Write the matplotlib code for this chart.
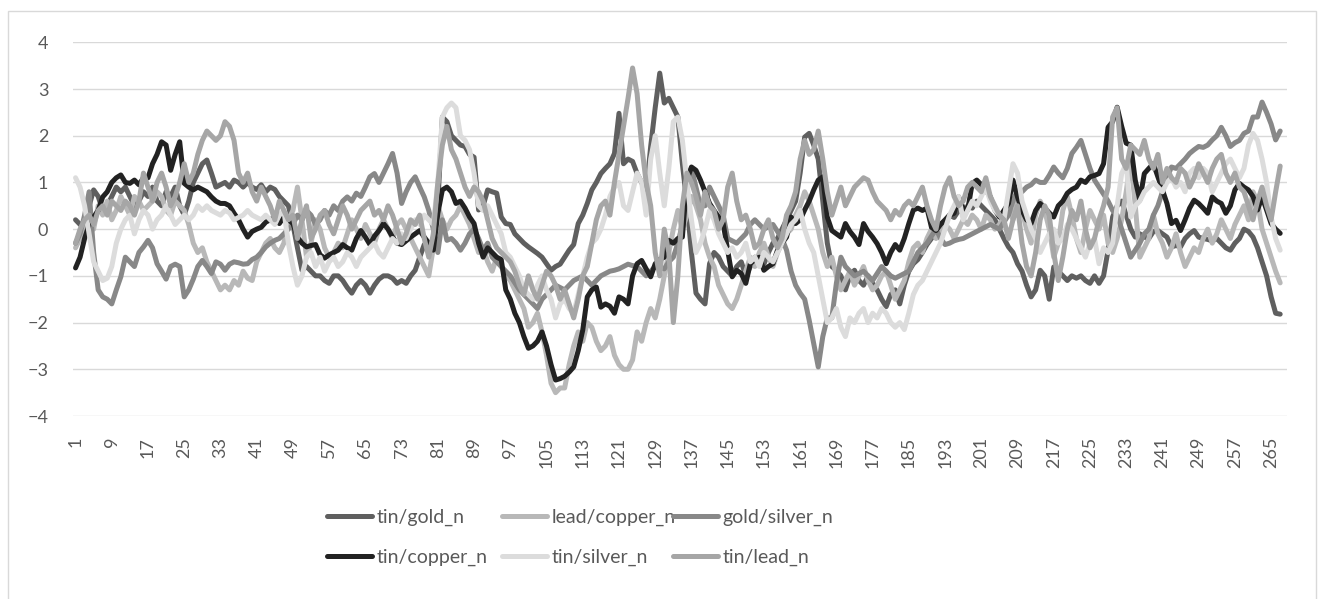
import matplotlib
matplotlib.use('Agg')
import matplotlib.pyplot as plt
from matplotlib.patches import Rectangle

plt.rcParams['font.family'] = ['Lato', 'DejaVu Sans']

series_names = ['tin/gold_n', 'lead/copper_n', 'gold/silver_n',
                'tin/copper_n', 'tin/silver_n', 'tin/lead_n']
colors = ['#5f5f5f', '#b8b8b8', '#888888', '#222222', '#dcdcdc', '#a6a6a6']

tin_gold = [
    0.2, 0.1, 0.0, 0.5, 0.84, 0.7, 0.4, 0.5, 0.7, 0.9,
    0.8, 0.9, 0.7, 0.5, 0.6, 0.8, 0.7, 0.9, 0.6, 0.5,
    0.8, 0.7, 0.9, 0.5, 0.3, 0.6, 1.0, 1.2, 1.4, 1.48,
    1.2, 0.9, 0.95, 1.0, 0.9, 1.05, 1.0, 0.9, 1.0, 0.9,
    0.85, 0.95, 0.8, 0.9, 0.85, 0.7, 0.6, 0.5, 0.1, -0.4,
    -0.88, -0.8, -0.9, -1.0, -1.0, -1.1, -1.16, -1.0, -1.0, -1.1,
    -1.25, -1.37, -1.2, -1.1, -1.2, -1.37, -1.2, -1.07, -1.0, -1.0,
    -1.05, -1.16, -1.1, -1.16, -1.0, -0.88, -0.6, -0.33, -0.4, -0.2,
    0.55, 2.4, 2.3, 2.0, 1.9, 1.8, 1.77, 1.6, 1.54, 0.41,
    0.5, 0.84, 0.8, 0.77, 0.26, 0.12, 0.1, -0.1, -0.2, -0.3,
    -0.38, -0.45, -0.52, -0.6, -0.74, -0.88, -0.8, -0.75, -0.6, -0.45,
    -0.33, 0.12, 0.3, 0.55, 0.84, 1.0, 1.19, 1.3, 1.4, 1.62,
    2.48, 1.4, 1.5, 1.45, 1.19, 1.0, 0.77, 1.77, 2.6, 3.34,
    2.7, 2.8, 2.6, 2.4, 1.4, 0.55, -0.5, -1.37, -1.5, -1.6,
    -0.74, -0.5, -0.6, -0.8, -0.9, -1.0, -0.8, -0.7, -1.0, -0.8,
    -0.6, -0.7, -0.75, -0.5, -0.3, -0.2, 0.0, 0.2, 0.4, 0.6,
    1.2, 1.97, 2.05, 1.8, 1.5, 0.6, -0.3, -0.8, -0.88, -1.0,
    -1.3, -1.0, -0.88, -1.1, -1.2, -1.0, -1.16, -1.3, -1.5, -1.66,
    -1.4, -1.3, -1.6, -1.2, -0.9, -0.74, -0.65, -0.5, -0.33, -0.2,
    -0.03, 0.1, 0.2, 0.3, 0.25, 0.4, 0.35, 0.5, 0.45, 0.6,
    0.5, 0.4, 0.3, 0.2, 0.0, -0.2, -0.38, -0.5, -0.74, -0.9,
    -1.2, -1.45, -1.3, -0.88, -1.0, -1.5, -0.81, -0.9, -1.0, -1.1,
    -1.0, -1.05, -1.0, -1.1, -1.16, -1.0, -1.16, -1.0, -0.45, 0.26,
    0.5, 0.6, 0.3, 0.0, -0.17, -0.1, -0.17, -0.2, -0.05, -0.03,
    -0.1, -0.17, -0.38, -0.35, -0.38, -0.2, -0.1, -0.03, -0.17, -0.2,
    -0.22, -0.25, -0.2, -0.3, -0.4, -0.45, -0.3, -0.2, 0.0, -0.05,
    -0.17, -0.4, -0.7, -1.0, -1.45, -1.8, -1.82,
]

lead_copper = [
    -0.4, -0.2, 0.1, 0.3, 0.0, 0.5, 0.3, 0.6, 0.2, 0.4,
    0.7, 0.5, 0.3, 0.7, 0.6, 0.4, 0.5, 0.6, 0.8, 0.7,
    0.4, 0.3, 0.6, 0.5, 0.4, 0.1, -0.3, -0.5, -0.4, -0.7,
    -0.9, -1.1, -1.3, -1.2, -1.3, -1.1, -1.2, -0.9, -1.05, -1.1,
    -0.7, -0.5, -0.3, -0.2, -0.4, -0.5, -0.3, 0.2, 0.4, 0.9,
    0.2, -0.6, -0.3, 0.2, 0.0, -0.4, -0.6, -0.5, -0.3, -0.4,
    -0.1, 0.2, 0.0, -0.2, 0.1, -0.1, -0.3, 0.0, 0.2, 0.0,
    -0.2, 0.1, 0.2, 0.0, -0.2, -0.4, -0.6, -0.8, -1.0, -0.4,
    0.5, 0.2, 0.0, 0.2, 0.3, 0.5, 0.3, 0.1, -0.2, -0.5,
    -0.4, -0.7, -0.9, -0.6, -0.8, -1.0, -1.1, -1.3, -1.5, -1.7,
    -2.1, -2.0, -1.8, -2.2, -2.7, -3.3, -3.5, -3.4, -3.4, -2.9,
    -2.5, -2.2, -2.4, -2.0, -2.1, -2.4, -2.6, -2.5, -2.3, -2.7,
    -2.9, -3.0, -3.0, -2.8, -2.2, -2.4, -2.0, -1.7, -1.9, -1.5,
    -1.0, -0.5, 0.0, 0.4, 0.0, 0.3, 0.7, 0.5, 0.2, -0.3,
    -0.6, -0.8, -1.2, -1.4, -1.6, -1.7, -1.5, -1.2, -0.9, -0.6,
    -0.8, -0.5, -0.3, -0.6, -0.8, -0.5, -0.3, -0.1, 0.0, 0.3,
    0.5, 0.8, 0.6, 0.3, 0.0, -0.5, -0.8, -0.6, -1.0, -1.3,
    -1.1, -0.9, -1.2, -1.0, -0.8, -1.1, -1.3, -1.2, -1.0, -0.9,
    -1.2, -1.5, -1.3, -1.1, -0.7, -0.4, -0.3, -0.5, -0.2, 0.0,
    -0.2, -0.1, 0.1, 0.0, -0.2, 0.0, 0.2, 0.1, 0.3, 0.2,
    0.0, 0.3, 0.2, 0.0, 0.1, 0.3, 0.5, 0.2, 0.6, 0.4,
    0.0, -0.3, 0.3, 0.6, 0.4, 0.0, -0.6, -0.3, 0.4, 0.7,
    0.3, -0.2, -0.5, 0.0, 0.4, 0.2, 0.0, 0.3, -0.3, -0.5,
    -0.2, 0.2, 0.8, 1.5, 0.5, -0.6, -0.4, -0.2, 0.3, -0.1,
    -0.3, -0.6, -0.4, -0.1, -0.5, -0.8, -0.6, -0.4, -0.5, -0.2,
    0.0, -0.3, -0.1, 0.2, 0.0, -0.2, 0.1, 0.3, 0.5, 0.2,
    0.8, 0.6, 0.0, -0.3, -0.6, -0.9, -1.15,
]

gold_silver = [
    -0.3, -0.1, 0.3, 0.8, -0.5, -1.3, -1.45, -1.5, -1.6, -1.3,
    -1.02, -0.6, -0.7, -0.8, -0.5, -0.38, -0.24, -0.4, -0.74, -0.9,
    -1.07, -0.8, -0.75, -0.8, -1.45, -1.3, -1.07, -0.8, -0.67, -0.8,
    -0.95, -0.7, -0.75, -0.88, -0.75, -0.7, -0.72, -0.75, -0.74, -0.65,
    -0.6, -0.5, -0.38, -0.3, -0.24, -0.2, -0.1, 0.0, 0.1, 0.3,
    0.2, 0.4, 0.3, 0.1, 0.2, 0.4, 0.3, 0.5, 0.4, 0.6,
    0.69, 0.6, 0.77, 0.7, 0.9, 1.12, 1.19, 1.0, 1.2, 1.4,
    1.62, 1.2, 0.55, 0.8, 1.0, 1.12, 0.9, 0.69, 0.4, 0.0,
    -0.5, 0.2, -0.24, -0.2, -0.3, -0.45, -0.3, -0.1, 0.0, -0.2,
    -0.45, -0.3, -0.6, -0.7, -0.8, -0.9, -1.0, -1.15, -1.3, -1.4,
    -1.5, -1.6, -1.7, -1.5, -1.4, -1.3, -1.2, -1.25, -1.3, -1.2,
    -1.1, -1.05, -1.0, -1.1, -1.2, -1.1, -1.0, -0.95, -0.9, -0.88,
    -0.85, -0.8, -0.75, -0.78, -0.8, -0.9, -1.0, -0.9, -0.8, -0.82,
    -0.85, -0.7, -0.6, -0.3, 0.1, 1.1, 1.3, 0.9, 0.5, 0.5,
    0.9, 0.7, 0.5, 0.3, -0.2, -0.25, -0.3, -0.2, -0.1, 0.1,
    0.2, 0.1, 0.0, 0.05, 0.1, -0.05, -0.2, -0.45, -0.9, -1.2,
    -1.37, -1.5, -1.95, -2.45, -2.95, -2.3, -1.9, -1.9, -1.16, -0.6,
    -0.8, -0.9, -1.0, -0.95, -0.9, -1.0, -1.1, -0.95, -0.8, -0.9,
    -1.0, -1.05, -1.0, -0.95, -0.9, -0.7, -0.5, -0.4, -0.3, -0.15,
    0.0, -0.2, -0.33, -0.3, -0.25, -0.22, -0.2, -0.15, -0.1, -0.05,
    0.0, 0.05, 0.1, 0.05, 0.0, 0.15, 0.3, 0.6, 0.84, 0.8,
    0.9, 0.95, 1.05, 1.0, 1.0, 1.15, 1.33, 1.2, 1.1, 1.3,
    1.62, 1.75, 1.9, 1.6, 1.3, 1.05, 0.9, 0.75, 0.6, 0.4,
    0.3, 0.0, -0.3, -0.6, -0.45, -0.3, -0.1, 0.0, 0.3, 0.5,
    0.8, 1.1, 1.33, 1.3, 1.4, 1.5, 1.62, 1.7, 1.77, 1.75,
    1.8, 1.91, 2.0, 2.18, 2.0, 1.77, 1.85, 1.9, 2.05, 2.1,
    2.4, 2.4, 2.72, 2.5, 2.25, 1.91, 2.1,
]

tin_copper = [
    -0.83, -0.6, -0.2, 0.1, 0.26, 0.4, 0.69, 0.8, 1.0, 1.1,
    1.16, 1.0, 0.98, 1.05, 0.95, 1.1, 1.1, 1.4, 1.6, 1.87,
    1.8, 1.26, 1.6, 1.87, 0.98, 0.9, 0.84, 0.9, 0.85, 0.8,
    0.69, 0.6, 0.55, 0.55, 0.5, 0.34, 0.2, 0.0, -0.17, -0.05,
    0.0, 0.04, 0.15, 0.2, 0.26, 0.12, 0.26, 0.2, 0.12, -0.17,
    -0.3, -0.38, -0.35, -0.33, -0.55, -0.62, -0.55, -0.5, -0.45, -0.33,
    -0.4, -0.45, -0.2, -0.03, -0.17, -0.33, -0.15, -0.03, 0.12, 0.0,
    -0.17, -0.3, -0.33, -0.25, -0.17, -0.1, -0.03, -0.17, -0.3, -0.45,
    0.34, 0.84, 0.9, 0.8, 0.55, 0.6, 0.45, 0.26, 0.12, -0.3,
    -0.6, -0.4, -0.5, -0.6, -0.65, -1.3, -1.5, -1.8, -2.0, -2.3,
    -2.55, -2.5, -2.4, -2.2, -2.5, -2.9, -3.23, -3.2, -3.15, -3.06,
    -2.95, -2.6, -2.16, -1.45, -1.3, -1.24, -1.67, -1.6, -1.65, -1.8,
    -1.45, -1.5, -1.6, -1.0, -0.74, -0.67, -0.85, -1.02, -0.74, -0.65,
    -0.6, -0.24, -0.3, -0.2, -0.17, 1.05, 1.33, 1.26, 1.05, 0.8,
    0.55, 0.4, 0.26, 0.12, -0.45, -1.02, -0.88, -0.95, -1.16, -0.74,
    -0.65, -0.6, -0.88, -0.8, -0.74, -0.45, -0.3, -0.17, 0.26, 0.12,
    0.2, 0.41, 0.6, 0.84, 1.05, 1.12, 0.26, -0.03, -0.1, -0.17,
    0.12, -0.05, -0.17, -0.33, 0.12, -0.05, -0.17, -0.31, -0.5, -0.74,
    -0.5, -0.33, -0.45, -0.2, 0.12, 0.41, 0.45, 0.4, 0.45, 0.04,
    -0.03, 0.1, 0.19, 0.3, 0.34, 0.69, 0.45, 0.41, 0.98, 1.05,
    0.95, 0.84, 0.69, 0.41, 0.26, 0.4, 0.55, 1.05, 0.69, 0.4,
    0.2, 0.12, 0.4, 0.55, 0.45, 0.35, 0.26, 0.5, 0.6, 0.77,
    0.85, 0.9, 1.05, 1.0, 1.12, 1.15, 1.19, 1.4, 2.18, 2.3,
    2.61, 2.2, 1.84, 1.8, 1.05, 0.62, 1.19, 1.3, 1.4, 1.12,
    0.84, 0.55, 0.12, 0.19, -0.03, 0.2, 0.45, 0.62, 0.55, 0.45,
    0.34, 0.69, 0.6, 0.55, 0.34, 0.5, 0.84, 0.98, 0.9, 0.84,
    0.7, 0.41, 0.69, 0.41, 0.12, 0.0, -0.09,
]

tin_silver = [
    1.1, 0.9, 0.5, -0.1, -0.7, -0.9, -1.1, -1.05, -0.8, -0.3,
    0.0, 0.2, 0.3, -0.1, 0.2, 0.4, 0.3, 0.0, 0.2, 0.3,
    0.5, 0.3, 0.1, 0.2, 0.3, 0.2, 0.3, 0.5, 0.4, 0.5,
    0.4, 0.35, 0.3, 0.4, 0.35, 0.2, 0.25, 0.3, 0.4, 0.3,
    0.25, 0.2, 0.3, 0.2, 0.1, 0.3, 0.4, -0.3, -0.8, -1.2,
    -1.0, -0.6, -0.5, -0.8, -0.6, -0.9, -0.7, -0.6, -0.8, -0.7,
    -0.5, -0.6, -0.8, -0.6, -0.5, -0.4, -0.3, -0.5, -0.6, -0.4,
    -0.2, -0.3, -0.1, -0.2, 0.0, 0.2, 0.1, 0.3, 0.2, 0.1,
    1.0, 2.4, 2.6, 2.7, 2.6, 2.0, 1.9, 1.7, 1.2, 0.5,
    0.4, 0.5, 0.3, 0.1, -0.1, -0.5, -0.6, -0.8, -1.0, -1.3,
    -1.4, -1.5, -1.2, -1.0, -1.3, -1.5, -1.9, -1.6, -1.5, -1.7,
    -1.8, -1.4, -1.0, -0.6, -0.3, -0.2, 0.0, 0.3, 0.7, 0.9,
    1.0, 0.5, 0.4, 0.8, 1.2, 1.0, 0.3, 1.5, 2.0, 1.2,
    0.5, 1.3, 2.3, 2.4, 1.9, 1.0, 0.2, -0.5, -0.3, 0.0,
    0.4, 0.2, -0.1, -0.3, -0.5, -0.4, -0.6, -0.5, -0.3, -0.7,
    -0.6, -0.8, -0.5, -0.6, -0.7, -0.5, -0.3, -0.1, 0.1, 0.2,
    0.4, 0.0, -0.3, -0.5, -1.0, -1.5, -2.0, -1.9, -1.7, -2.1,
    -2.3, -1.9, -2.0, -1.8, -1.7, -2.0, -1.8, -1.9, -1.7, -1.8,
    -2.0, -2.1, -2.0, -2.15, -1.8, -1.4, -1.2, -1.1, -0.9, -0.7,
    -0.5, -0.3, 0.0, 0.3, 0.5, 0.7, 0.2, 0.4, 0.6, 0.5,
    0.7, 0.9, 0.6, 0.4, 0.3, 0.2, 0.8, 1.4, 1.2, 0.6,
    0.3, 0.0, -0.2, -0.5, -0.3, -0.1, 0.0, -0.3, -0.2, 0.1,
    0.0, -0.2, -0.4, -0.6, -0.3, -0.2, -0.74, -0.4, -0.5, -0.3,
    0.5, 1.19, 1.4, 0.26, 0.5, 0.6, 0.8, 0.9, 1.0, 0.9,
    0.8, 1.0, 1.1, 0.9, 1.0, 0.8, 1.2, 1.3, 1.1, 1.3,
    1.2, 0.8, 1.0, 1.2, 1.4, 1.5, 1.3, 1.1, 1.3, 1.8,
    2.05, 1.9, 1.5, 1.0, 0.26, -0.2, -0.45,
]

tin_lead = [
    -0.3, 0.0, 0.2, 0.3, 0.1, 0.4, 0.5, 0.3, 0.6, 0.5,
    0.4, 0.6, 0.5, 0.3, 0.6, 1.2, 0.9, 0.6, 1.0, 1.2,
    0.9, 0.5, 0.7, 1.0, 1.4, 1.0, 1.2, 1.6, 1.9, 2.1,
    2.0, 1.9, 2.0, 2.3, 2.2, 1.9, 1.2, 1.0, 1.2, 0.8,
    0.6, 0.9, 0.7, 0.5, 0.2, 0.6, 0.4, 0.2, 0.3, -0.2,
    0.2, 0.5, -0.2, 0.0, 0.3, 0.4, 0.1, -0.1, 0.2, 0.5,
    0.3, 0.0, 0.2, 0.4, 0.5, 0.6, 0.3, 0.4, 0.2, 0.5,
    0.3, 0.0, -0.3, -0.1, 0.2, 0.1, 0.3, -0.2, -0.6, -0.1,
    1.0, 1.8, 2.2, 1.7, 1.5, 1.2, 0.9, 0.7, 0.9, 0.8,
    0.6, 0.2, -0.2, -0.4, -0.5, -0.6, -0.7, -0.9, -1.2, -1.4,
    -1.0, -1.3, -1.5, -1.2, -0.9, -1.0, -1.2, -1.5, -1.3, -1.6,
    -1.9, -1.5, -1.0, -0.8, -0.3, 0.2, 0.5, 0.6, 0.3, 1.0,
    1.6, 2.2, 2.8, 3.45, 2.9, 1.8, 1.0, 0.5, -0.5, -1.0,
    0.0, -0.5, -2.0, -1.0, 0.5, 1.2, 1.0, 0.7, 0.3, 0.8,
    0.5, 0.4, 0.0, 0.2, 0.9, 1.2, 0.6, 0.2, 0.3, 0.0,
    -0.4, -0.3, 0.0, 0.2, -0.2, -0.4, -0.2, 0.3, 0.5, 0.8,
    1.5, 1.9, 1.6, 1.7, 2.1, 1.5, 0.8, 0.3, 0.6, 0.9,
    0.5, 0.7, 0.9, 1.0, 1.1, 1.05, 0.8, 0.6, 0.5, 0.4,
    0.2, 0.4, 0.3, 0.5, 0.6, 0.5, 0.7, 0.9, 0.5, 0.2,
    0.0, 0.5, 0.9, 1.1, 0.7, 0.5, 0.6, 0.9, 1.0, 0.9,
    0.8, 1.1, 0.7, 0.5, 0.3, 0.2, -0.2, 0.2, 0.5, -0.3,
    -0.8, -1.0, -0.5, 0.2, 0.5, 0.3, -0.5, -1.1, -0.6, 0.0,
    0.4, 0.2, 0.6, 0.0, -0.4, -0.2, 0.2, 0.5, 0.9, 2.4,
    2.6, 1.5, 1.3, 1.8, 1.7, 1.6, 1.9, 1.5, 1.3, 1.6,
    1.0, 1.3, 1.1, 1.0, 1.3, 1.2, 0.9, 1.1, 1.4, 1.2,
    1.0, 1.3, 1.5, 1.6, 1.2, 1.0, 1.2, 0.9, 0.8, 0.5,
    0.2, 0.6, 0.9, 0.5, 0.2, 0.8, 1.35,
]

all_series = [tin_gold, lead_copper, gold_silver, tin_copper, tin_silver, tin_lead]
n = len(tin_gold)
x = list(range(1, n + 1))
x_ticks = list(range(1, n + 1, 8))
y_ticks = list(range(-4, 5))

fig = plt.figure(figsize=(13.25, 5.99), dpi=100)
# light chart-area border like the Excel export
fig.patches.append(Rectangle((0.0057, -0.01), 0.9875, 0.9916, transform=fig.transFigure,
                             fill=False, edgecolor='#d9d9d9', linewidth=1))

ax = fig.add_axes([0.0553, 0.3055, 0.916, 0.6239])
lines = []
for vals, name, c in zip(all_series, series_names, colors):
    ln, = ax.plot(x, vals, color=c, linewidth=3.6, label=name,
                  solid_joinstyle='round', solid_capstyle='round')
    lines.append(ln)

ax.set_xlim(0.5, n + 1.5)
ax.set_ylim(-4, 4)
ax.set_yticks(y_ticks)
ax.set_xticks(x_ticks)
ax.set_xticklabels([str(t) for t in x_ticks], rotation=90)
ax.grid(axis='y', color='#d9d9d9', linewidth=1)
ax.set_axisbelow(True)
for s in ax.spines.values():
    s.set_visible(False)
ax.tick_params(axis='both', length=0, labelsize=13, colors='#595959')
ax.tick_params(axis='y', pad=18)
ax.tick_params(axis='x', pad=15)

# legend laid out as three fixed columns, rows filled left to right
col_x = [327, 502, 673]
for k in range(3):
    fig.legend(handles=[lines[k], lines[k + 3]], labels=[series_names[k], series_names[k + 3]],
               loc='upper left', bbox_to_anchor=(col_x[k] / 1325, 1 - 509 / 599),
               frameon=False, borderpad=0, borderaxespad=0, fontsize=14,
               handlelength=2.3, handletextpad=0.25, labelspacing=1.15,
               labelcolor='#595959')

plt.savefig('out.png', dpi=100)
